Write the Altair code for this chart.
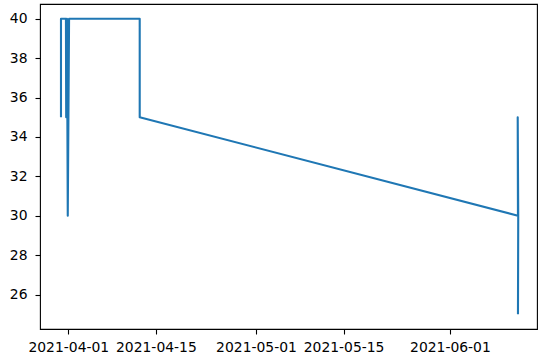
import altair as alt
import pandas as pd

# Readings in recorded order (the line follows this order, not time order)
timestamps = [
    "2021-03-30T20:00:00", "2021-03-30T20:00:00", "2021-03-31T15:00:00",
    "2021-03-31T16:00:00", "2021-03-31T19:00:00", "2021-03-31T22:00:00",
    "2021-04-01T03:00:00", "2021-04-12T10:00:00", "2021-04-12T10:00:00",
    "2021-06-11T21:00:00", "2021-06-11T20:00:00", "2021-06-11T22:00:00",
    "2021-06-11T21:00:00",
]
values = [35, 40, 40, 35, 40, 30, 40, 40, 35, 30, 35, 30, 25]

x_ticks = ["2021-04-01", "2021-04-15", "2021-05-01", "2021-05-15", "2021-06-01"]
y_ticks = [26, 28, 30, 32, 34, 36, 38, 40]

df = pd.DataFrame({"t": timestamps, "v": values, "i": range(len(values))})

font = "DejaVu Sans"

x_axis = alt.Axis(
    values=[alt.DateTime(year=int(d[:4]), month=int(d[5:7]), date=int(d[8:]))
            for d in x_ticks],
    format="%Y-%m-%d", title=None, grid=False, domain=False,
    tickColor="black", tickSize=5, tickWidth=1.1,
    labelFont=font, labelFontSize=13.9, labelColor="black",
    labelPadding=6, labelFlush=False, labelOverlap=False,
)
y_axis = alt.Axis(
    values=y_ticks, title=None, grid=False, domain=False,
    tickColor="black", tickSize=5, tickWidth=1.1,
    labelFont=font, labelFontSize=13.9, labelColor="black",
    labelPadding=8,
)

chart = (
    alt.Chart(df)
    .mark_line(color="#1f77b4", strokeWidth=2.1, strokeJoin="round")
    .encode(
        x=alt.X("t:T", axis=x_axis,
                scale=alt.Scale(domain=[
                    alt.DateTime(year=2021, month=3, date=27, hours=11, minutes=30),
                    alt.DateTime(year=2021, month=6, date=14, hours=22),
                ])),
        y=alt.Y("v:Q", axis=y_axis,
                scale=alt.Scale(domain=[24.25, 40.75], nice=False, zero=False)),
        order=alt.Order("i:Q"),
    )
    .properties(
        width=497, height=325,
        autosize=alt.AutoSizeParams(type="none"),
        padding={"left": 40, "top": 4, "right": 1, "bottom": 27},
        background="white",
    )
    .configure_view(stroke="black", strokeWidth=1.1)
)

chart.save("out.html", embed_options={"renderer": "svg", "actions": False})
